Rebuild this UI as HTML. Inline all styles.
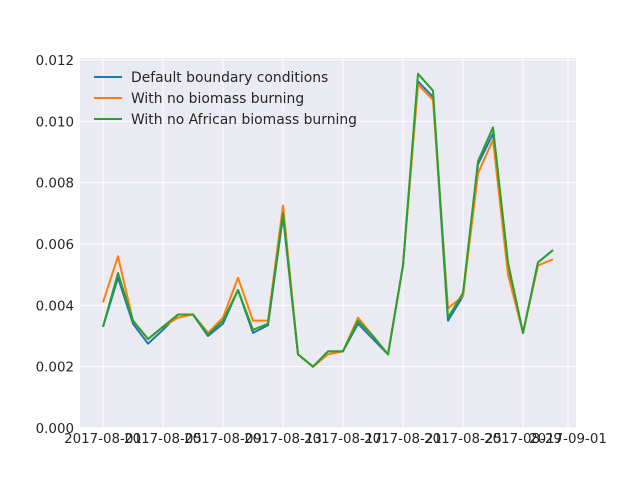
<!DOCTYPE html>
<html><head><meta charset="utf-8"><style>
body{margin:0;background:#fff;}
svg text{font-family:"DejaVu Sans","Liberation Sans",sans-serif;font-size:13.4px;fill:#262626;}
svg text.leg{font-size:13.9px;}
</style></head><body>
<svg id="chart" width="640" height="480" xmlns="http://www.w3.org/2000/svg"></svg>
<script>
const dayIndex=[0,1,2,3,4,5,6,7,8,9,10,11,12,13,14,15,16,17,18,19,20,21,22,23,24,25,26,27,28,29,30];
const defaultBC=[0.0033,0.0049,0.0034,0.00275,0.0032,0.0037,0.0037,0.0030,0.0034,0.0045,0.0031,0.00335,0.0069,0.0024,0.0020,0.0025,0.0025,0.0034,0.0029,0.0024,0.0053,0.0113,0.0108,0.0035,0.0043,0.0086,0.0096,0.0053,0.0031,0.0054,0.0058];
const noBiomass=[0.0041,0.0056,0.0035,0.0029,0.0033,0.0036,0.0037,0.0031,0.0036,0.0049,0.0035,0.0035,0.00725,0.0024,0.0020,0.0024,0.0025,0.0036,0.0030,0.0024,0.0053,0.0112,0.0107,0.0039,0.0043,0.0083,0.0094,0.0050,0.0031,0.0053,0.0055];
const noAfrican=[0.0033,0.00505,0.0035,0.0029,0.0033,0.0037,0.0037,0.00305,0.0035,0.0045,0.0032,0.0034,0.0070,0.0024,0.0020,0.0025,0.0025,0.0035,0.0030,0.0024,0.0053,0.01155,0.0110,0.0036,0.0044,0.0087,0.0098,0.0054,0.0031,0.0054,0.0058];
const yTicks=[0,0.002,0.004,0.006,0.008,0.010,0.012];
const xTickDays=[0,4,8,12,16,20,24,28,31];
const xTickLabels=["2017-08-01","2017-08-05","2017-08-09","2017-08-13","2017-08-17","2017-08-21","2017-08-25","2017-08-29","2017-09-01"];
const seriesNames=["Default boundary conditions","With no biomass burning","With no African biomass burning"];
const seriesColors=["#1f77b4","#ff7f0e","#2ca02c"];

const NS="http://www.w3.org/2000/svg";
const svg=document.getElementById('chart');
const L=80,R=576,T=58,B=428;
function xs(d){return 103+d*15;}
function ys(v){return 428-v/0.012*368;}
function mk(tag,attrs,parent){const e=document.createElementNS(NS,tag);for(const k in attrs)e.setAttribute(k,attrs[k]);(parent||svg).appendChild(e);return e;}
const bg=mk('rect',{x:L,y:T,width:R-L,height:B-T,fill:'#eaeaf2'});


yTicks.forEach(v=>{
  const g=mk('line',{x1:L,x2:R,y1:ys(v),y2:ys(v),stroke:'#fff','stroke-width':1});
  
  
  const t=mk('text',{x:74,y:ys(v)+5,'text-anchor':'end'});
  t.textContent=v.toFixed(3);
  
  
});
xTickDays.forEach((d,i)=>{
  const g=mk('line',{x1:xs(d),x2:xs(d),y1:T,y2:B,stroke:'#fff','stroke-width':1});
  
  
  const t=mk('text',{x:xs(d),y:443,'text-anchor':'middle'});
  t.textContent=xTickLabels[i];
  
  
});
[defaultBC,noBiomass,noAfrican].forEach((s,k)=>{
  const pts=s.map((v,i)=>xs(dayIndex[i])+','+ys(v)).join(' ');
  const p=mk('polyline',{points:pts,fill:'none',stroke:seriesColors[k],'stroke-width':2,'stroke-linejoin':'round'});
  
  
});
seriesNames.forEach((n,k)=>{
  const y=77+k*21;
  const l=mk('line',{x1:94,x2:122,y1:y,y2:y,stroke:seriesColors[k],'stroke-width':2});
  
  
  const t=mk('text',{x:131,y:y+5,'class':'leg'});
  t.textContent=n;
  
  
});
</script>
</body></html>
